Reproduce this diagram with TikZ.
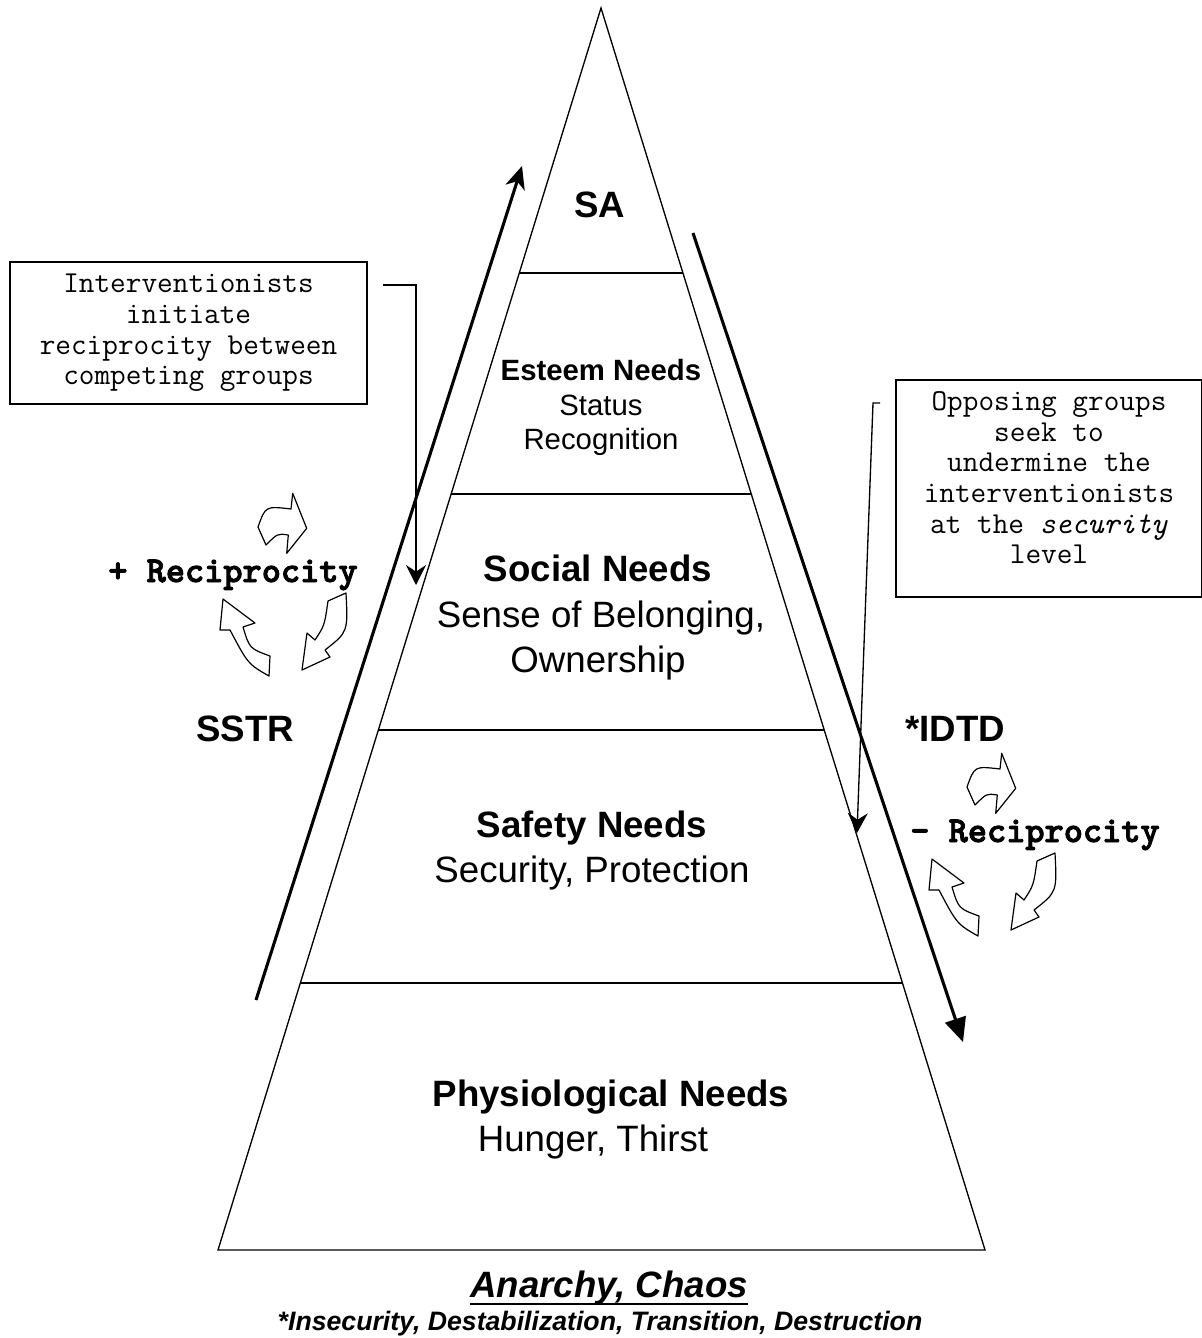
\documentclass[tikz,border=0pt]{standalone}
\usepackage{fontspec}
\setmainfont{Liberation Sans}
\newfontfamily\recipfont[FakeBold=2.5]{lmmonolt10-bold.otf}
\usetikzlibrary{calc}
\usetikzlibrary{positioning}
\usetikzlibrary{arrows.meta}

\tikzset{
  pyr/.style={line width=1pt},
  bighead/.style={font=\bfseries\fontsize{27.5}{34}\selectfont, anchor=base},
  bigtext/.style={font=\fontsize{27.5}{34}\selectfont, anchor=base},
  midhead/.style={font=\bfseries\fontsize{22}{26}\selectfont, anchor=base},
  midtext/.style={font=\fontsize{22}{26}\selectfont, anchor=base},
  reciptext/.style={font=\recipfont\fontsize{27.4}{30}\selectfont, anchor=base},
  notebox/.style={draw, line width=1.3pt, align=center, inner sep=0pt,
    font=\ttfamily\fontsize{22.8}{23}\selectfont},
  notearrow/.style={line width=1pt, -{Stealth[length=15pt,width=15pt,inset=5pt]}},
  bendarrow/.style={draw, fill=white, line width=0.9pt, line join=round},
  pics/recipcycle/.style={code={
    % three bent block arrows
    \path[bendarrow] (-22,-73) .. controls (-14.5,-94) .. (11,-91) -- (12.7,-106.7)
      -- (26.7,-71.7) -- (6.7,-46.7) -- (8.3,-65) .. controls (-2.4,-66.6) .. (-14,-55) -- cycle;
    \path[bendarrow] (-11,76) .. controls (-32,64) .. (-50,30) -- (-60,30)
      -- (-57,-1) -- (-25,23) -- (-37,27) .. controls (-30.5,48.5) .. (-10,56) -- cycle;
    \path[bendarrow] (66,-7) .. controls (68,32) .. (45,50) -- (50,57)
      -- (22,70) -- (27,33) -- (35,40) .. controls (44.5,25.5) .. (48,1) -- cycle;
  }}
}

\begin{document}
\begin{tikzpicture}[x=0.75pt, y=-0.75pt]
  \useasboundingbox (0,0) rectangle (1202,1338);

  % pyramid
  \coordinate (apex) at (601,8);
  \coordinate (bl) at (218,1250);
  \coordinate (br) at (985,1250);
  \draw[pyr] (apex) -- (bl) -- (br) -- cycle;
  \foreach \t in {0.2134,0.3913,0.5813,0.7850}
    \draw[pyr] ($(apex)!\t!(bl)$) -- ($(apex)!\t!(br)$);

  % levels
  \node[bighead] (sa) at (600,217) {SA};
  \node[midhead] (esteem) at (601,380) {Esteem Needs};
  \node[midtext] (status) at (601,415) {Status};
  \node[midtext] (recog) at (601,449) {Recognition};
  \node[bighead] (social) at (598,581) {Social Needs};
  \node[bigtext] (belong) at (601,627) {Sense of Belonging,};
  \node[bigtext] (owner) at (598,672) {Ownership};
  \node[bighead] (safety) at (592,837) {Safety Needs};
  \node[bigtext] (secur) at (592,882) {Security, Protection};
  \node[bighead] (physio) at (611,1106) {Physiological Needs};
  \node[bigtext] (hunger) at (593,1151) {Hunger, Thirst};

  \node[font=\bfseries\itshape\fontsize{27.5}{34}\selectfont, anchor=base west, inner xsep=0pt]
    (anarchy) at (470,1297) {Anarchy, Chaos\hspace{9pt}};
  \draw[line width=2.2pt] ($(anarchy.base west)+(0,7)$) -- ($(anarchy.base east)+(0,7)$);
  \node[font=\bfseries\itshape\fontsize{20}{24}\selectfont, anchor=base] (insec)
    at (600,1330) {*Insecurity, Destabilization, Transition, Destruction};

  % sides
  \node[bighead] (sstr) at (245,741) {SSTR};
  \node[bighead] (idtd) at (955,741) {*IDTD};
  \node[reciptext] (plusrec) at (233,582) {+ Reciprocity};
  \node[reciptext] (minusrec) at (1035,842) {- Reciprocity};
  \pic at (280,600) {recipcycle};
  \pic at (989,860) {recipcycle};

  \coordinate (up0) at (256,1000);
  \coordinate (up1) at (522,166);
  \draw[line width=2.3pt, -{Stealth[length=17pt,width=15pt,inset=5pt]}] (up0) -- (up1);
  \coordinate (dn0) at (693,233);
  \coordinate (dn1) at (963,1042);
  \draw[line width=2.3pt, -{Triangle[length=18pt,width=16pt]}] (dn0) -- (dn1);

  % notes
  \node[notebox, minimum width=267.75pt, minimum height=106.5pt] (note1) at (188.5,333)
    {Interventionists\\initiate\\reciprocity between\\competing groups};
  \node[notebox, minimum width=229.5pt, minimum height=162.75pt] (note2) at (1049,488.5)
    {Opposing groups\\seek to\\undermine the\\interventionists\\at the \textit{security}\\level\\[-7pt]};

  \coordinate (n1) at (383,285);
  \coordinate (n1end) at (416,585);
  \draw[notearrow] (n1) -| (n1end);
  \coordinate (n2) at (880,403);
  \coordinate (n2k) at (873,403);
  \coordinate (n2end) at (857,833);
  \draw[notearrow] (n2) -- (n2k) -- (n2end);
\end{tikzpicture}
\end{document}
